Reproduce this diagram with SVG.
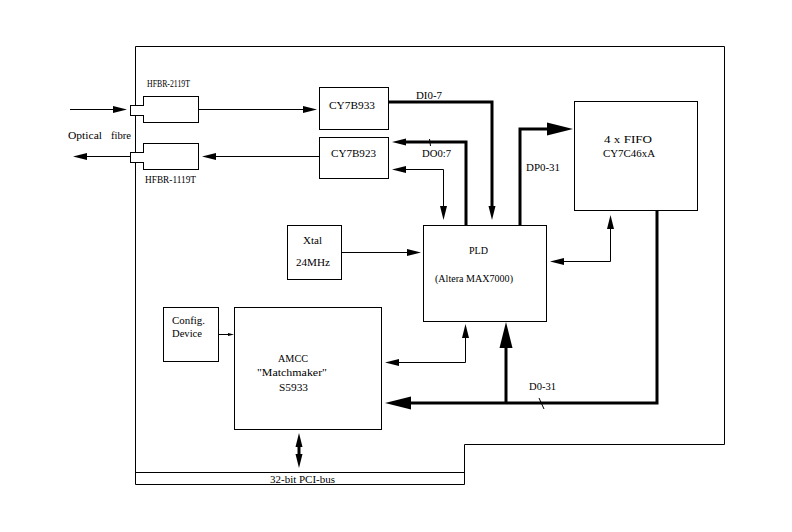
<svg xmlns="http://www.w3.org/2000/svg" width="792" height="532" viewBox="0 0 792 532">
<style>
.b{fill:#fff;stroke:#000;stroke-width:1}
.t{font-family:"Liberation Serif","Times New Roman",serif;font-size:10.5px;fill:#000}
.w{fill:none;stroke:#000;stroke-width:1}
.k{fill:none;stroke:#000;stroke-width:3}
</style>
<defs>
<marker id="a" markerUnits="userSpaceOnUse" markerWidth="14" markerHeight="8" refX="0" refY="4" orient="auto-start-reverse" viewBox="0 0 14 8" overflow="visible"><path d="M0,0.5 L14,4 L0,7.5 z" fill="#000"/></marker>
<marker id="A" markerUnits="userSpaceOnUse" markerWidth="26" markerHeight="13" refX="0" refY="6.5" orient="auto-start-reverse" viewBox="0 0 26 13" overflow="visible"><path d="M0,0 L26,6.5 L0,13 z" fill="#000"/></marker>
<marker id="s" markerUnits="userSpaceOnUse" markerWidth="6" markerHeight="4" refX="0" refY="2" orient="auto" viewBox="0 0 6 4" overflow="visible"><path d="M0,0.5 L6,2 L0,3.5 z" fill="#000"/></marker>
</defs>
<rect width="792" height="532" fill="#fff"/>
<g id="board">
<path class="w" d="M135.5,46.5 H724.5 V444.5 H464.5 V484.5 H135.5 Z"/>
</g>
<g id="pcibus">
<path class="w" d="M135.5,472.5 H464.5"/>
<text class="t" x="270" y="483" textLength="65" lengthAdjust="spacingAndGlyphs">32-bit PCI-bus</text>
</g>
<g id="hfbr2119t">
<rect class="b" x="143.5" y="96.5" width="55" height="26"/>
<rect class="b" x="130.5" y="105.5" width="13" height="10"/>
<path d="M143.5,106 V115" stroke="#fff" stroke-width="1.2"/>
<text class="t" x="147" y="87" textLength="43" lengthAdjust="spacingAndGlyphs">HFBR-2119T</text>
</g>
<g id="hfbr1119t">
<rect class="b" x="143.5" y="143.5" width="55" height="26"/>
<rect class="b" x="130.5" y="152.5" width="13" height="10"/>
<path d="M143.5,153 V162" stroke="#fff" stroke-width="1.2"/>
<text class="t" x="145" y="183" textLength="51" lengthAdjust="spacingAndGlyphs">HFBR-1119T</text>
</g>
<g id="fibre-label">
<text class="t" x="68" y="139"><tspan textLength="34" lengthAdjust="spacingAndGlyphs">Optical</tspan> <tspan x="111" textLength="20" lengthAdjust="spacingAndGlyphs">fibre</tspan></text>
</g>
<g id="cy7b933">
<rect class="b" x="319.5" y="87.5" width="69" height="42"/>
<text class="t" x="329" y="108.5" textLength="46" lengthAdjust="spacingAndGlyphs">CY7B933</text>
</g>
<g id="cy7b923">
<rect class="b" x="319.5" y="137.5" width="69" height="41"/>
<text class="t" x="331" y="157" textLength="45" lengthAdjust="spacingAndGlyphs">CY7B923</text>
</g>
<g id="fifo">
<rect class="b" x="574.5" y="101.5" width="123" height="109"/>
<text class="t" x="604" y="143" textLength="48" lengthAdjust="spacingAndGlyphs">4 x FIFO</text>
<text class="t" x="603" y="157" textLength="52" lengthAdjust="spacingAndGlyphs">CY7C46xA</text>
</g>
<g id="pld">
<rect class="b" x="423.5" y="225.5" width="123" height="96"/>
<text class="t" x="469" y="254" textLength="19" lengthAdjust="spacingAndGlyphs">PLD</text>
<text class="t" x="435" y="282" textLength="78" lengthAdjust="spacingAndGlyphs">(Altera MAX7000)</text>
</g>
<g id="xtal">
<rect class="b" x="287.5" y="225.5" width="54" height="54"/>
<text class="t" x="303" y="244" textLength="19" lengthAdjust="spacingAndGlyphs">Xtal</text>
<text class="t" x="296" y="266" textLength="34" lengthAdjust="spacingAndGlyphs">24MHz</text>
</g>
<g id="config">
<rect class="b" x="163.5" y="307.5" width="55" height="54"/>
<text class="t" x="172" y="324" textLength="33" lengthAdjust="spacingAndGlyphs">Config.</text>
<text class="t" x="172" y="337" textLength="30" lengthAdjust="spacingAndGlyphs">Device</text>
</g>
<g id="amcc">
<rect class="b" x="234.5" y="307.5" width="147" height="122"/>
<text class="t" x="278" y="362" textLength="30" lengthAdjust="spacingAndGlyphs">AMCC</text>
<text class="t" x="257" y="376" textLength="70" lengthAdjust="spacingAndGlyphs">"Matchmaker"</text>
<text class="t" x="279" y="391" textLength="29" lengthAdjust="spacingAndGlyphs">S5933</text>
</g>
<g id="connectors">
<path class="w" d="M70,109.5 H113" marker-end="url(#a)"/>
<path class="w" d="M199,109.5 H303" marker-end="url(#a)"/>
<path class="w" d="M319,156.5 H216" marker-end="url(#a)"/>
<path class="w" d="M130,156.5 H87" marker-end="url(#a)"/>
<path class="k" d="M389,102 H492 V206" marker-end="url(#a)"/>
<text class="t" x="416" y="99" textLength="26" lengthAdjust="spacingAndGlyphs">DI0-7</text>
<path class="k" d="M466,225 V142 H406" marker-end="url(#a)"/>
<path class="w" d="M429.5,139 L430.5,146"/>
<text class="t" x="422" y="157" textLength="29" lengthAdjust="spacingAndGlyphs">DO0:7</text>
<path class="w" d="M406,169.5 H443.5 V206" marker-start="url(#a)" marker-end="url(#a)"/>
<path class="k" d="M520,225 V129 H547" marker-end="url(#A)"/>
<text class="t" x="526" y="170.5" textLength="34" lengthAdjust="spacingAndGlyphs">DP0-31</text>
<path class="w" d="M564,261.5 H610.5 V229" marker-start="url(#a)" marker-end="url(#a)"/>
<path class="w" d="M342,252.5 H407" marker-end="url(#a)"/>
<path class="k" d="M657,211 V403 H411" marker-end="url(#A)"/>
<path class="k" d="M506,403 V348" marker-end="url(#A)"/>
<path class="w" d="M539,398 L544,409"/>
<text class="t" x="529" y="390" textLength="27" lengthAdjust="spacingAndGlyphs">D0-31</text>
<path class="w" d="M399,362.5 H465.5 V338" marker-start="url(#a)" marker-end="url(#a)"/>
<path class="w" d="M219,334.5 H228" marker-end="url(#s)"/>
<path class="k" d="M299,447 V454" marker-start="url(#a)" marker-end="url(#a)"/>
</g>
</svg>
